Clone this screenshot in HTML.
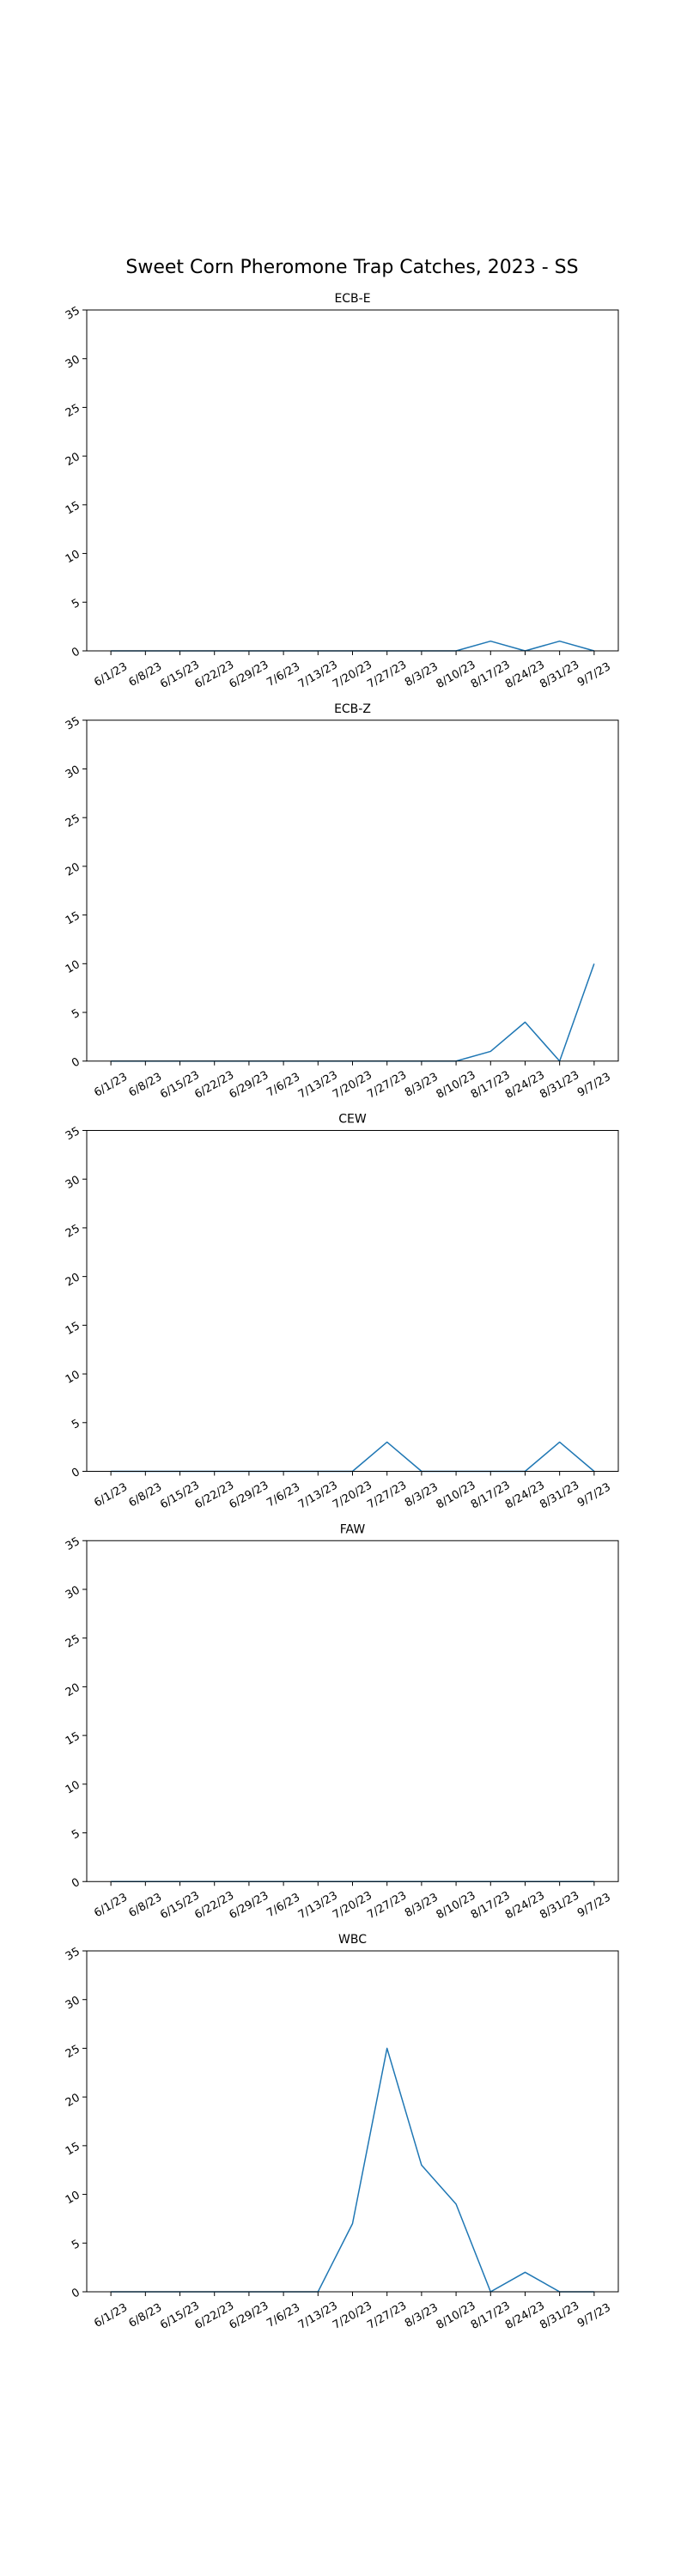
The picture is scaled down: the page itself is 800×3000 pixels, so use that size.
<!DOCTYPE html>
<html><head><meta charset="utf-8"><style>
body{margin:0;background:#fff}
svg{display:block;font-family:"DejaVu Sans","Liberation Sans",sans-serif}
</style></head><body>
<svg id="chart" width="800" height="3000" viewBox="0 0 800 3000" xmlns="http://www.w3.org/2000/svg">
<rect width="800" height="3000" fill="#fff"/>
<text x="410" y="318" font-size="22" text-anchor="middle">Sweet Corn Pheromone Trap Catches, 2023 - SS</text>
</svg>
<script>
const dates = ["6/1/23","6/8/23","6/15/23","6/22/23","6/29/23","7/6/23","7/13/23","7/20/23","7/27/23","8/3/23","8/10/23","8/17/23","8/24/23","8/31/23","9/7/23"];
const panelTitles = ["ECB-E","ECB-Z","CEW","FAW","WBC"];
const ecbE = [0,0,0,0,0,0,0,0,0,0,0,1,0,1,0];
const ecbZ = [0,0,0,0,0,0,0,0,0,0,0,1,4,0,10];
const cew = [0,0,0,0,0,0,0,0,3,0,0,0,0,3,0];
const faw = [0,0,0,0,0,0,0,0,0,0,0,0,0,0,0];
const wbc = [0,0,0,0,0,0,0,0,25,13,9,0,2,0,0].map((v,i)=>v);
wbc[7] = 7;
const yTicks = [0,5,10,15,20,25,30,35];
const yMax = 35;
const seriesList = [ecbE, ecbZ, cew, faw, wbc];

const NS = "http://www.w3.org/2000/svg";
const svg = document.getElementById('chart');
const L = 101, R = 720, H = 397, TOP0 = 361, STEP = 477.75;
function mk(tag, attrs, parent){const e=document.createElementNS(NS,tag);for(const k in attrs)e.setAttribute(k,attrs[k]);(parent||svg).appendChild(e);return e;}
const n = dates.length;
const span = (n-1)*1.1;
function xScale(i){return L + (i + 0.05*(n-1)) / span * (R-L);}

seriesList.forEach((data, p) => {
  const top = TOP0 + p*STEP, bot = top + H;
  const yScale = v => bot - v / yMax * H;
  const g = mk('g', {});
  
  
  const t = mk('text', {x:(L+R)/2, y: top-9, 'font-size':14, 'text-anchor':'middle'}, g);
  t.textContent = panelTitles[p];
  
  
  yTicks.forEach(v => {
    const y = yScale(v);
    const tk = mk('line', {x1:L-5, x2:L, y1:y, y2:y, stroke:'#000', 'stroke-width':1}, g);
    
    
    const lb = mk('text', {x:0, y:0, 'font-size':13, 'text-anchor':'end', 'dominant-baseline':'middle', transform:`translate(${L-9},${y}) rotate(-30)`}, g);
    lb.textContent = v;
    
    
  });
  dates.forEach((d, i) => {
    const x = xScale(i);
    const tk = mk('line', {x1:x, x2:x, y1:bot, y2:bot+5, stroke:'#000', 'stroke-width':1}, g);
    
    
    const lb = mk('text', {x:0, y:0, 'font-size':13, 'text-anchor':'middle', 'dominant-baseline':'middle', transform:`translate(${x},${bot+28}) rotate(-30)`}, g);
    lb.textContent = d;
    
    
  });
  const pts = data.map((v,i)=>xScale(i).toFixed(2)+','+yScale(v).toFixed(2)).join(' ');
  const line = mk('polyline', {points: pts, fill:'none', stroke:'#1f77b4', 'stroke-width':1.5, 'stroke-linejoin':'round'}, g);
  
  
  const frame = mk('rect', {x:L, y:top, width:R-L, height:H, fill:'none', stroke:'#000', 'stroke-width':1}, g);
  
  
});
</script>
</body></html>
